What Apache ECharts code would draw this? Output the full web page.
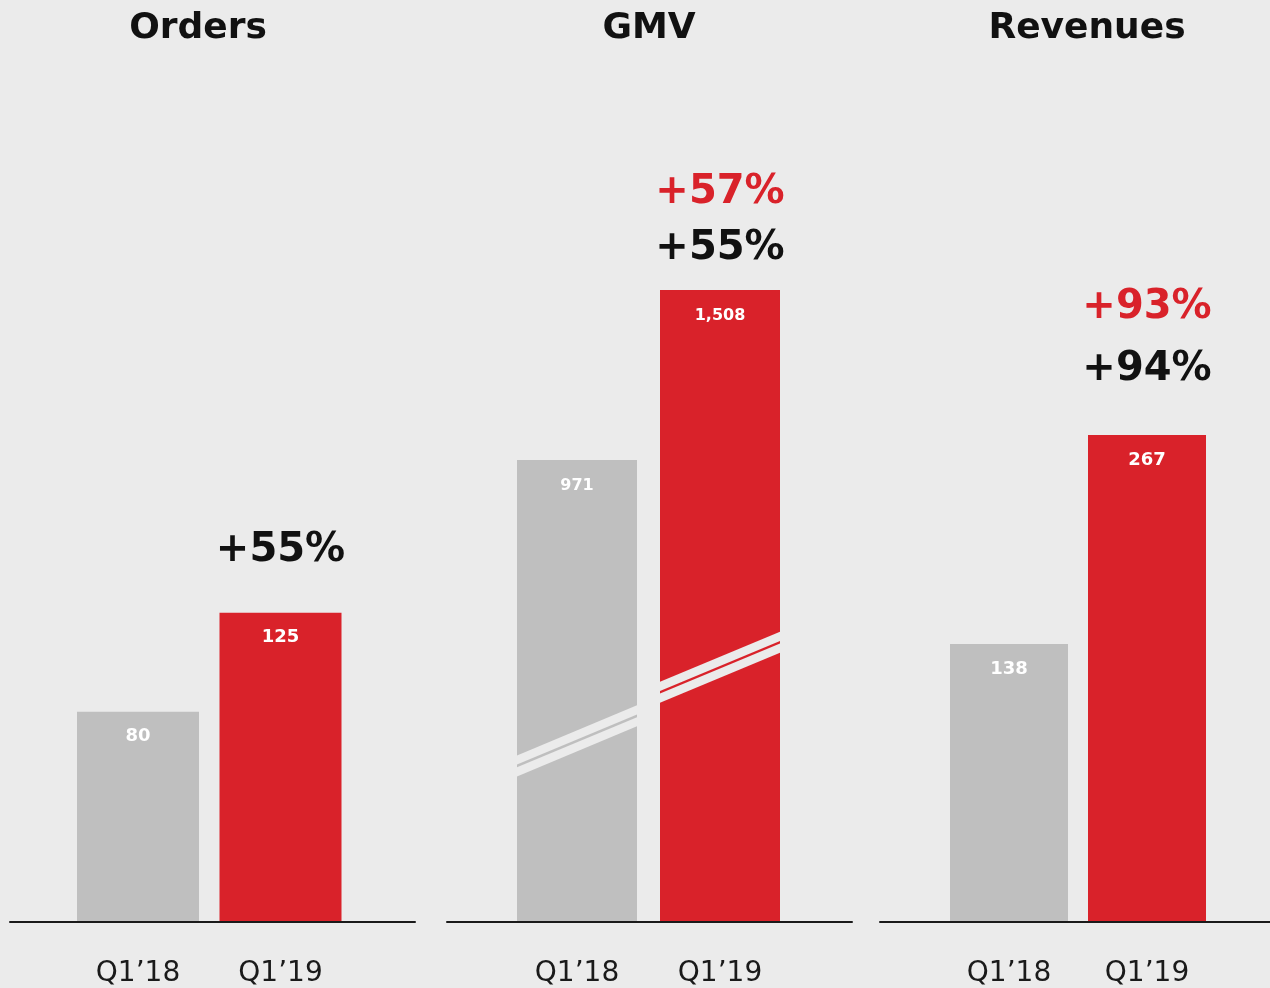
<!DOCTYPE html>
<html><head><meta charset="utf-8">
<script src="https://cdn.jsdelivr.net/npm/echarts@6/dist/echarts.min.js"></script>
<style>html,body{margin:0;padding:0;background:#ebebeb}#c{width:1270px;height:988px}</style>
</head><body><div id="c"></div>
<script>
// ---- data ----
const categories = ['Q1’18', 'Q1’19'];
const panelTitles = ['Orders', 'GMV', 'Revenues'];
const ordersValues = [80, 125];
const gmvValues = [971, 1508];
const revenuesValues = [138, 267];
const growthReported = ['+55%', '+55%', '+94%'];
const growthConstFx = [null, '+57%', '+93%'];

// ---- styles / layout ----
const BG = '#ebebeb', GRAY = '#bfbfbf', RED = '#d9222a', INK = '#111111';
const FONT = '"DejaVu Sans", Verdana, sans-serif';
const panels = [
  {values: ordersValues, titleX: 198, lineL: 10, lineW: 405, barL: 66.75, barW: 285, bar: 122,
   min: -15.5, max: 358, labelSize: 18, labelOff: 25, blackOff: 62, redOff: null, breaks: null},
  {values: gmvValues, titleX: 649, lineL: 447, lineW: 405, barL: 505.5, barW: 286, bar: 120,
   min: -488.4, max: 2108, labelSize: 16, labelOff: 26, blackOff: 41, redOff: 97, breaks: [0.392, 0.403]},
  {values: revenuesValues, titleX: 1087, lineL: 880, lineW: 400, barL: 940, barW: 276, bar: 118,
   min: -33.6, max: 473.7, labelSize: 18, labelOff: 25, blackOff: 65, redOff: 127, breaks: null}
];
const GRID_TOP = 100, GRID_BOTTOM = 66;

function fmt(v) { return Number(v).toLocaleString('en-US'); }

function makeRender(p, pi) {
  return function (params, api) {
    const i = api.value(0), v = api.value(1);
    const top = api.coord([i, v]);
    const base = api.coord([i, p.min]);
    const w = p.bar, x0 = top[0] - w / 2, h = base[1] - top[1];
    const children = [{type: 'rect', shape: {x: x0, y: top[1], width: w, height: h},
      style: {fill: i === 0 ? GRAY : RED}}];
    if (p.breaks) {
      const yc = base[1] - h * p.breaks[i];
      const dy = w * 0.417 / 2;
      const band = (o1, o2) => ({type: 'polygon', shape: {points: [
        [x0, yc + dy + o1], [x0 + w, yc - dy + o1], [x0 + w, yc - dy + o2], [x0, yc + dy + o2]]},
        style: {fill: BG}});
      children.push(band(-10.5, -1.3), band(1.3, 10.5));
    }
    children.push({type: 'text', x: top[0], y: top[1] + p.labelOff, style: {text: fmt(v), fill: '#ffffff',
      fontSize: p.labelSize, fontWeight: 'bold', fontFamily: FONT, align: 'center', verticalAlign: 'middle'}});
    if (i === 1) {
      children.push({type: 'text', x: top[0], y: top[1] - p.blackOff, style: {text: growthReported[pi], fill: INK,
        fontSize: 40, fontWeight: 'bold', fontFamily: FONT, align: 'center', verticalAlign: 'middle'}});
      if (growthConstFx[pi]) {
        children.push({type: 'text', x: top[0], y: top[1] - p.redOff, style: {text: growthConstFx[pi], fill: RED,
          fontSize: 40, fontWeight: 'bold', fontFamily: FONT, align: 'center', verticalAlign: 'middle'}});
      }
    }
    return {type: 'group', children};
  };
}

const grid = [], xAxis = [], yAxis = [], series = [], title = [];
panels.forEach((p, pi) => {
  title.push({text: panelTitles[pi], left: p.titleX, top: 11, textAlign: 'center', padding: 0,
    textStyle: {fontSize: 36, fontWeight: 'bold', color: INK, fontFamily: FONT}});
  // bar grid
  const g = grid.length;
  grid.push({left: p.barL, width: p.barW, top: GRID_TOP, bottom: GRID_BOTTOM});
  xAxis.push({gridIndex: g, type: 'category', data: categories, axisLine: {show: false}, axisTick: {show: false},
    axisLabel: {fontSize: 28, color: '#1a1a1a', fontFamily: FONT, margin: 38}});
  yAxis.push({gridIndex: g, type: 'value', min: p.min, max: p.max, show: false});
  series.push({type: 'custom', xAxisIndex: g, yAxisIndex: g, renderItem: makeRender(p, pi),
    data: p.values.map((v, i) => [i, v]), clip: false, z: 2});
  // baseline grid
  const g2 = grid.length;
  grid.push({left: p.lineL, width: p.lineW, top: GRID_TOP, bottom: GRID_BOTTOM});
  xAxis.push({gridIndex: g2, type: 'value', min: 0, max: 1, z: 10,
    axisLine: {show: true, onZero: false, lineStyle: {color: '#1a1a1a', width: 2}},
    axisTick: {show: false}, axisLabel: {show: false}, splitLine: {show: false}});
  yAxis.push({gridIndex: g2, type: 'value', show: false, min: 0, max: 1});
});

const chart = echarts.init(document.getElementById('c'), null, {renderer: 'canvas'});
chart.setOption({backgroundColor: BG, animation: false, title, grid, xAxis, yAxis, series});
</script></body></html>
